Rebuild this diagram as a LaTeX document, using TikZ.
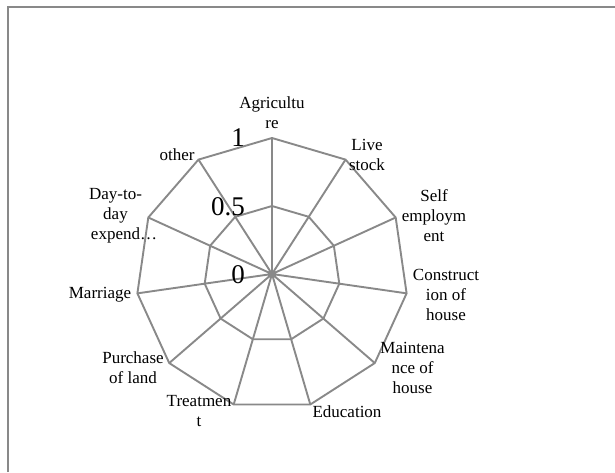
\documentclass[tikz,border=0pt]{standalone}
\usepackage{fontspec}
\setmainfont{Liberation Serif}
\definecolor{gridgray}{RGB}{137,137,137}
\tikzset{
  web/.style={draw=gridgray, line width=1.9pt, line join=miter},
  lab/.style={align=center, font=\fontsize{17}{20}\selectfont, inner sep=0pt},
  num/.style={anchor=east, font=\fontsize{27}{30}\selectfont, inner sep=0pt}
}

\begin{document}
\begin{tikzpicture}[x=1pt, y=1pt]
\useasboundingbox (-272,-198) rectangle (343,274);
\draw[gridgray, line width=1.9pt] (-264,-198) -- (-264,267.3) -- (343,267.3); %%Frame
\coordinate (O) at (0,0);
%%Outer ring
\coordinate (Agri) at (90:136);
\coordinate (Live) at (57.27:136);
\coordinate (Self) at (24.55:136);
\coordinate (Cons) at (-8.18:136);
\coordinate (Main) at (-40.91:136);
\coordinate (Educ) at (-73.64:136);
\coordinate (Trea) at (-106.36:136);
\coordinate (Purc) at (-139.09:136);
\coordinate (Marr) at (-171.82:136);
\coordinate (Dayd) at (155.45:136);
\coordinate (Othr) at (122.73:136);
%%Inner ring
\coordinate (Agrih) at (90:68);
\coordinate (Liveh) at (57.27:68);
\coordinate (Selfh) at (24.55:68);
\coordinate (Consh) at (-8.18:68);
\coordinate (Mainh) at (-40.91:68);
\coordinate (Educh) at (-73.64:68);
\coordinate (Treah) at (-106.36:68);
\coordinate (Purch) at (-139.09:68);
\coordinate (Marrh) at (-171.82:68);
\coordinate (Daydh) at (155.45:68);
\coordinate (Othrh) at (122.73:68);
\draw[web] (Agri)--(Live)--(Self)--(Cons)--(Main)--(Educ)--(Trea)--(Purc)--(Marr)--(Dayd)--(Othr)--cycle;
\draw[web] (Agrih)--(Liveh)--(Selfh)--(Consh)--(Mainh)--(Educh)--(Treah)--(Purch)--(Marrh)--(Daydh)--(Othrh)--cycle;
\draw[web] (O)--(Live) (O)--(Self) (O)--(Cons) (O)--(Main) (O)--(Educ);
\draw[web] (O)--(Trea) (O)--(Purc) (O)--(Marr) (O)--(Dayd) (O)--(Othr);
\draw[web, line width=2.6pt] (O)--(Agri); %%Value axis
%%Scale
\node[num] (n1) at (-27,136) {1};
\node[num] (nhalf) at (-27,67.5) {0.5};
\node[num] (n0) at (-27,-1) {0};
%%Category labels
\node[lab] (lAgri) at (0,161) {Agricultu\\re};
\node[lab] (lLive) at (95,119) {Live\\stock};
\node[lab] (lSelf) at (162,58) {Self\\employm\\ent};
\node[lab] (lCons) at (174,-21) {Construct\\ion of\\house};
\node[lab] (lMain) at (140.5,-94) {Maintena\\nce of\\house};
\node[lab] (lEduc) at (75,-138) {Education};
\node[lab] (lTrea) at (-73,-137.5) {Treatmen\\t};
\node[lab] (lPurc) at (-139,-93.5) {Purchase\\of land};
\node[lab] (lMarr) at (-172,-21) {Marriage};
\node[lab] (lDayd) at (-156.5,58) {Day-to-\\day\\\hspace*{17pt}expend\ldots};
\node[lab] (lOthr) at (-95,119) {other};
\end{tikzpicture}
\end{document}
